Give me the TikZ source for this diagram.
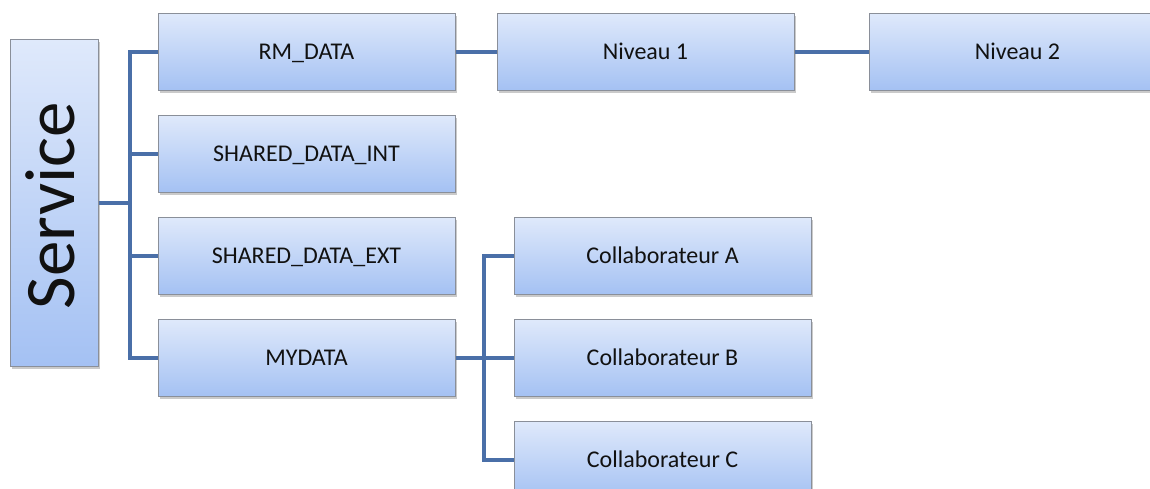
\documentclass[tikz,border=0pt]{standalone}
\usepackage{fontspec}
\setmainfont{Carlito}
\usepackage{graphicx}
\usetikzlibrary{calc,positioning,shadows}
\definecolor{OrgInk}{HTML}{111111}
\definecolor{OrgLink}{HTML}{4A6FA8}
\definecolor{OrgTop}{HTML}{DFE9FB}
\definecolor{OrgBottom}{HTML}{A4C1F3}
\definecolor{OrgEdge}{HTML}{8A8F99}
\tikzset{
  every node/.style={font=\fontsize{24}{28}\selectfont, text=OrgInk},
  orgbox/.style={draw=OrgEdge, line width=1pt, top color=OrgTop, bottom color=OrgBottom,
    minimum width=297pt, minimum height=77.5pt, inner sep=0pt,
    text height=15.5pt, text depth=0pt,
    drop shadow={shadow xshift=1.5pt, shadow yshift=-2.5pt, opacity=0.35, fill=black!60}},
  link/.style={draw=OrgLink, line width=4pt},
}

\begin{document}
\begin{tikzpicture}[x=1pt,y=-1pt, node distance=23.5pt]
  % Page frame, pixel grid of the original
  \useasboundingbox (0,0) rectangle (1150,489);
  \clip (0,0) rectangle (1150,489);
  % Root box
  \node[orgbox, minimum width=88pt, minimum height=326pt, text height={}, text depth={},
    font=\fontsize{71}{74}\selectfont]
    (svc) at (54,203) {\rotatebox{90}{\raisebox{4pt}[\height][\depth]{Service\hspace{5pt}}}};
  % First level
  \node[orgbox] (rm) at (306.5,52) {RM\_DATA};
  \node[orgbox, below=of rm] (int) {SHARED\_DATA\_INT};
  \node[orgbox, below=of int] (ext) {SHARED\_DATA\_EXT};
  \node[orgbox, below=of ext] (mydata) {MYDATA};
  % Levels under RM_DATA
  \node[orgbox, right=41pt of rm] (niv1) {Niveau 1};
  \node[orgbox, right=74pt of niv1] (niv2) {Niveau 2};
  % Collaborators under MYDATA
  \node[orgbox, right=58pt of ext] (cola) {Collaborateur A};
  \node[orgbox, below=of cola] (colb) {Collaborateur B};
  \node[orgbox, below=of colb] (colc) {Collaborateur C};
  % Trunk from the root
  \coordinate (trunk) at ($(svc.east)+(31,0)$);
  \draw[link] (svc.east) -- (trunk);
  \foreach \n in {rm,int,ext,mydata}
    \draw[link] (trunk) |- (\n.west);
  % Chain of levels
  \draw[link] (rm.east) -- (niv1.west);
  \draw[link] (niv1.east) -- (niv2.west);
  % Fork to the collaborators
  \coordinate (fork) at ($(mydata.east)+(28,0)$);
  \draw[link] (mydata.east) -- (colb.west);
  \foreach \n in {cola,colc}
    \draw[link] (fork) |- (\n.west);
\end{tikzpicture}
\end{document}
